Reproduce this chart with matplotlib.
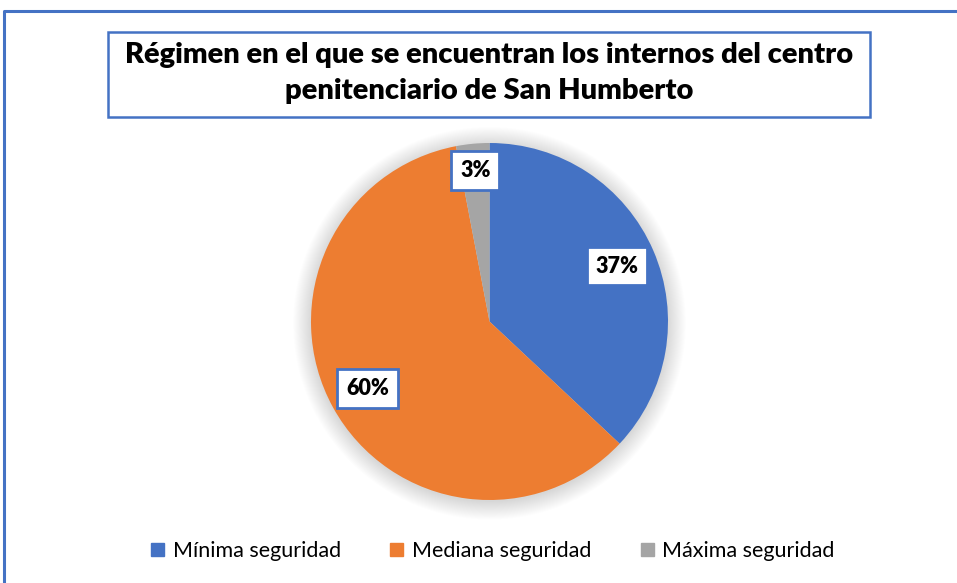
import matplotlib.pyplot as plt
import matplotlib.patches as mpatches
from matplotlib.lines import Line2D
import numpy as np

# data
categories = ["Mínima seguridad", "Mediana seguridad", "Máxima seguridad"]
values = [37, 60, 3]
labels = ["37%", "60%", "3%"]
colors = ["#4472C4", "#ED7D31", "#A5A5A5"]
title = "Régimen en el que se encuentran los internos del centro\npenitenciario de San Humberto"

plt.rcParams['font.family'] = ['Lato', 'DejaVu Sans']

W, H = 957, 583
fig = plt.figure(figsize=(W / 100, H / 100), dpi=100)
fig.patch.set_facecolor("white")

# outer frame (left + top edges visible)
fig.add_artist(Line2D([4 / W, 4 / W, 1.0], [0.0, 1 - 11 / H, 1 - 11 / H],
                      transform=fig.transFigure, color="#4472C4", lw=2.2))

# title box
fig.add_artist(mpatches.Rectangle((108 / W, 1 - 117 / H), (870 - 108) / W, (117 - 32) / H,
                                  transform=fig.transFigure, facecolor="white",
                                  edgecolor="#4472C4", lw=1.8))
fig.text(489 / W, 1 - 73 / H, title, ha="center", va="center", fontsize=21,
         fontweight="heavy", linespacing=1.5)

# pie
cx, cy, r = 489.5, 321.5, 178.5
ax = fig.add_axes([(cx - r) / W, 1 - (cy + r) / H, 2 * r / W, 2 * r / H])

# soft shadow around the pie
for rr in np.linspace(1.1, 1.0, 20):
    ax.add_patch(mpatches.Circle((0.0, -0.01), rr, facecolor="black", alpha=0.009,
                                 edgecolor="none", clip_on=False, zorder=0))

wedges, _ = ax.pie(values, colors=colors, startangle=90, counterclock=False,
                   radius=1, wedgeprops=dict(linewidth=0))
ax.set_xlim(-1, 1)
ax.set_ylim(-1, 1)
ax.axis("off")
for w in wedges:
    w.set_zorder(2)

for w, lab, v in zip(wedges, labels, values):
    mid = np.deg2rad((w.theta1 + w.theta2) / 2)
    d = 0.85 if v < 10 else 0.78
    ax.text(d * np.cos(mid), d * np.sin(mid), lab, ha="center", va="center",
            fontsize=15.5, fontweight="heavy", zorder=5,
            bbox=dict(boxstyle="square,pad=0.4", facecolor="white",
                      edgecolor="#4472C4", lw=2))

handles = [mpatches.Patch(color=c, label=n) for c, n in zip(colors, categories)]
fig.legend(handles=handles, loc="center", bbox_to_anchor=(493 / W, 1 - 551 / H),
           ncol=3, frameon=False, fontsize=15.5, handlelength=0.6, handleheight=0.6,
           handletextpad=0.4, columnspacing=2.3)

fig.savefig("out.png", dpi=100)
